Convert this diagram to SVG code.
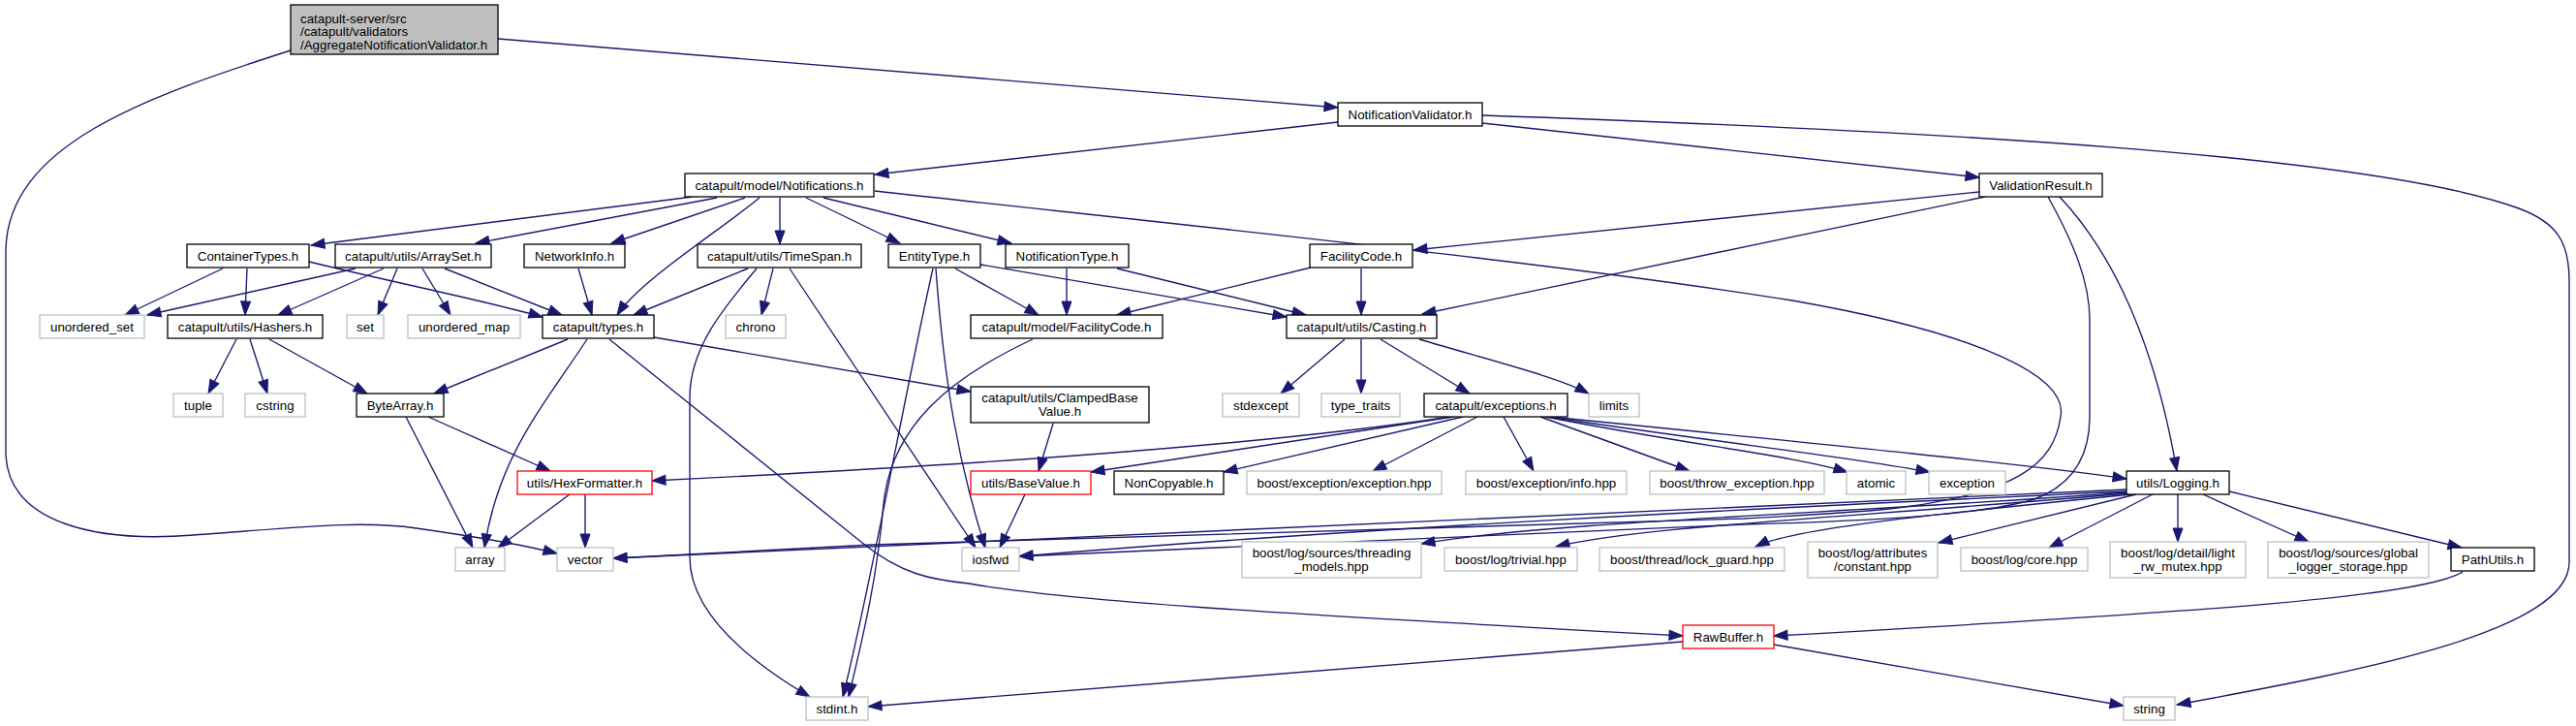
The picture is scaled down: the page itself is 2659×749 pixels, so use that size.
<svg xmlns="http://www.w3.org/2000/svg" width="2659" height="749" viewBox="0 0 2659 749">
<style>
.bg{fill:#ffffff}
.n rect{fill:#ffffff;stroke:#000000;stroke-width:1.3}
.g rect{fill:#ffffff;stroke:#bfbfbf;stroke-width:1.3}
.r rect{fill:#ffffff;stroke:#ff0000;stroke-width:1.3}
.top rect{fill:#bfbfbf;stroke:#000000;stroke-width:1.3}
text{font-family:"Liberation Sans",Arial,Helvetica,sans-serif;font-size:13.33px;fill:#000000}
.c{text-anchor:middle}
#edges path{fill:none;stroke:#191970;stroke-width:1.35;marker-end:url(#ah)}
</style>
<defs>
<marker id="ah" markerUnits="userSpaceOnUse" markerWidth="15" markerHeight="11" refX="14" refY="5" orient="auto" viewBox="0 0 15 10" overflow="visible">
<path d="M0,0 L14,5 L0,10 z" fill="#191970" stroke="#191970" stroke-width="1"/>
</marker>
</defs>
<rect class="bg" x="0" y="0" width="2659" height="749"/>
<g id="edges">
<path d="M514,40 L1381,111"/>
<path d="M300,52 C150,100 6,150 6,260 L6,470 C10,540 100,560 200,552 C300,545 370,536 430,545 C500,555 540,562 575,571"/>
<path d="M1381,126 L903,180"/>
<path d="M1530,127 L2043,183"/>
<path d="M1530,119 C2000,135 2450,160 2600,215 C2640,230 2652,250 2652,290 L2652,580 C2652,650 2450,690 2247,727"/>
<path d="M715,203 L321,253"/>
<path d="M740,204 L491,251"/>
<path d="M769,204 L631,251"/>
<path d="M784,204 C740,240 660,290 637,325"/>
<path d="M805,204 L805,252"/>
<path d="M832,204 L929,251"/>
<path d="M850,204 L1044,251"/>
<path d="M903,197 C1200,230 1600,270 1850,310 C2050,345 2135,390 2127,430 C2120,480 2080,510 1950,525 C1900,530 1850,532 1800,535 L900,562 L633,576"/>
<path d="M2043,198 L1459,258"/>
<path d="M2049,203 L1468,324"/>
<path d="M2126,203 C2170,250 2220,330 2247,486"/>
<path d="M2114,203 C2140,250 2157,290 2157,330 L2157,430 C2157,470 2140,500 2100,515 C2050,530 1950,537 1800,541 L1052,574"/>
<path d="M2195,505 L633,576"/>
<path d="M2195,507 C1800,525 1400,545 1052,574"/>
<path d="M2195,508 C1900,530 1600,538 1467,561"/>
<path d="M2197,509 C1900,535 1700,542 1606,564"/>
<path d="M2200,510 C2000,530 1850,545 1812,564"/>
<path d="M2205,510 L2001,560"/>
<path d="M2222,510 L2115,565"/>
<path d="M2248,510 L2248,559"/>
<path d="M2274,510 L2383,559"/>
<path d="M2301,507 L2541,565"/>
<path d="M2542,590 C2500,615 2300,630 1831,656"/>
<path d="M1737,662 L896,729"/>
<path d="M1831,665 L2192,728"/>
<path d="M629,350 L890,560 C930,592 960,598 1000,602 C1100,620 1300,632 1737,656"/>
<path d="M586,350 L448,406"/>
<path d="M606,350 C560,420 515,470 500,565"/>
<path d="M675,348 L1002,404"/>
<path d="M772,277 L654,325"/>
<path d="M798,277 L786,325"/>
<path d="M781,277 C745,320 712,360 712,410 L712,575 C712,630 770,680 836,719"/>
<path d="M815,277 L1007,565"/>
<path d="M966,277 C975,400 990,480 1017,565"/>
<path d="M963,277 C935,400 900,600 870,719"/>
<path d="M986,277 L1072,325"/>
<path d="M1012,273 L1328,327"/>
<path d="M1066,350 C980,390 920,440 912,520 C905,600 890,660 876,719"/>
<path d="M1101,277 L1101,325"/>
<path d="M1153,277 L1348,325"/>
<path d="M1353,276 L1153,325"/>
<path d="M1405,277 L1405,325"/>
<path d="M1087,437 L1072,486"/>
<path d="M1058,510 L1032,565"/>
<path d="M1388,350 L1322,406"/>
<path d="M1405,350 L1405,406"/>
<path d="M1425,350 L1517,406"/>
<path d="M1465,350 C1550,375 1610,390 1640,406"/>
<path d="M1497,430 C1300,460 1000,480 673,496"/>
<path d="M1500,430 L1126,487"/>
<path d="M1510,430 L1263,487"/>
<path d="M1525,430 L1417,486"/>
<path d="M1552,430 L1583,486"/>
<path d="M1590,430 L1744,486"/>
<path d="M1595,430 C1750,460 1850,470 1907,487"/>
<path d="M1597,430 C1800,460 1900,470 1992,487"/>
<path d="M1600,430 C1900,460 2100,480 2195,494"/>
<path d="M244,350 L215,406"/>
<path d="M258,350 L276,406"/>
<path d="M278,350 L379,406"/>
<path d="M230,277 L129,325"/>
<path d="M255,277 L253,325"/>
<path d="M319,270 C400,290 500,310 560,327"/>
<path d="M367,277 L152,325"/>
<path d="M396,277 L287,325"/>
<path d="M410,277 L390,325"/>
<path d="M436,277 L465,325"/>
<path d="M459,277 L580,325"/>
<path d="M597,277 L611,325"/>
<path d="M419,430 L488,565"/>
<path d="M442,430 L568,486"/>
<path d="M588,510 L514,565"/>
<path d="M604,510 L604,565"/>
</g>
<g id="n_top" class="top"><rect x="300" y="5" width="214" height="51"/><text x="310" y="23.5">catapult-server/src</text><text x="310" y="37">/catapult/validators</text><text x="310" y="50.5">/AggregateNotificationValidator.h</text></g>
<g id="n_NotificationValidator" class="n"><rect x="1381" y="106" width="149" height="24"/><text class="c" x="1455.5" y="122.5">NotificationValidator.h</text></g>
<g id="n_Notifications" class="n"><rect x="707" y="179" width="195" height="24"/><text class="c" x="804.5" y="195.5">catapult/model/Notifications.h</text></g>
<g id="n_ValidationResult" class="n"><rect x="2043" y="179" width="127" height="24"/><text class="c" x="2106.5" y="195.5">ValidationResult.h</text></g>
<g id="n_ContainerTypes" class="n"><rect x="193" y="252" width="126" height="24"/><text class="c" x="256" y="268.5">ContainerTypes.h</text></g>
<g id="n_ArraySet" class="n"><rect x="346" y="252" width="161" height="24"/><text class="c" x="426.5" y="268.5">catapult/utils/ArraySet.h</text></g>
<g id="n_NetworkInfo" class="n"><rect x="541" y="252" width="104" height="24"/><text class="c" x="593" y="268.5">NetworkInfo.h</text></g>
<g id="n_TimeSpan" class="n"><rect x="720" y="252" width="169" height="24"/><text class="c" x="804.5" y="268.5">catapult/utils/TimeSpan.h</text></g>
<g id="n_EntityType" class="n"><rect x="917" y="252" width="95" height="24"/><text class="c" x="964.5" y="268.5">EntityType.h</text></g>
<g id="n_NotificationType" class="n"><rect x="1038" y="252" width="127" height="24"/><text class="c" x="1101.5" y="268.5">NotificationType.h</text></g>
<g id="n_FacilityCode" class="n"><rect x="1352" y="252" width="106" height="24"/><text class="c" x="1405" y="268.5">FacilityCode.h</text></g>
<g id="n_unordered_set" class="g"><rect x="41" y="325" width="108" height="24"/><text class="c" x="95" y="341.5">unordered_set</text></g>
<g id="n_Hashers" class="n"><rect x="173" y="325" width="160" height="24"/><text class="c" x="253" y="341.5">catapult/utils/Hashers.h</text></g>
<g id="n_set" class="g"><rect x="358" y="325" width="38" height="24"/><text class="c" x="377" y="341.5">set</text></g>
<g id="n_unordered_map" class="g"><rect x="421" y="325" width="116" height="24"/><text class="c" x="479" y="341.5">unordered_map</text></g>
<g id="n_types" class="n"><rect x="560" y="325" width="115" height="24"/><text class="c" x="617.5" y="341.5">catapult/types.h</text></g>
<g id="n_chrono" class="g"><rect x="749" y="325" width="62" height="24"/><text class="c" x="780" y="341.5">chrono</text></g>
<g id="n_modelFacilityCode" class="n"><rect x="1002" y="325" width="198" height="24"/><text class="c" x="1101" y="341.5">catapult/model/FacilityCode.h</text></g>
<g id="n_Casting" class="n"><rect x="1328" y="325" width="155" height="24"/><text class="c" x="1405.5" y="341.5">catapult/utils/Casting.h</text></g>
<g id="n_tuple" class="g"><rect x="179" y="406" width="51" height="24"/><text class="c" x="204.5" y="422.5">tuple</text></g>
<g id="n_cstring" class="g"><rect x="253" y="406" width="62" height="24"/><text class="c" x="284" y="422.5">cstring</text></g>
<g id="n_ByteArray" class="n"><rect x="368" y="406" width="90" height="24"/><text class="c" x="413" y="422.5">ByteArray.h</text></g>
<g id="n_ClampedBaseValue" class="n"><rect x="1002" y="399" width="184" height="37"/><text class="c" x="1094" y="415">catapult/utils/ClampedBase</text><text class="c" x="1094" y="429">Value.h</text></g>
<g id="n_stdexcept" class="g"><rect x="1262" y="406" width="79" height="24"/><text class="c" x="1301.5" y="422.5">stdexcept</text></g>
<g id="n_type_traits" class="g"><rect x="1364" y="406" width="81" height="24"/><text class="c" x="1404.5" y="422.5">type_traits</text></g>
<g id="n_exceptions" class="n"><rect x="1470" y="406" width="148" height="24"/><text class="c" x="1544" y="422.5">catapult/exceptions.h</text></g>
<g id="n_limits" class="g"><rect x="1640" y="406" width="52" height="24"/><text class="c" x="1666" y="422.5">limits</text></g>
<g id="n_HexFormatter" class="r"><rect x="534" y="486" width="139" height="24"/><text class="c" x="603.5" y="502.5">utils/HexFormatter.h</text></g>
<g id="n_BaseValue" class="r"><rect x="1002" y="486" width="124" height="24"/><text class="c" x="1064" y="502.5">utils/BaseValue.h</text></g>
<g id="n_NonCopyable" class="n"><rect x="1150" y="486" width="113" height="24"/><text class="c" x="1206.5" y="502.5">NonCopyable.h</text></g>
<g id="n_exception_hpp" class="g"><rect x="1287" y="486" width="201" height="24"/><text class="c" x="1387.5" y="502.5">boost/exception/exception.hpp</text></g>
<g id="n_info_hpp" class="g"><rect x="1513" y="486" width="166" height="24"/><text class="c" x="1596" y="502.5">boost/exception/info.hpp</text></g>
<g id="n_throw_exception" class="g"><rect x="1703" y="486" width="180" height="24"/><text class="c" x="1793" y="502.5">boost/throw_exception.hpp</text></g>
<g id="n_atomic" class="g"><rect x="1906" y="486" width="61" height="24"/><text class="c" x="1936.5" y="502.5">atomic</text></g>
<g id="n_exception" class="g"><rect x="1991" y="486" width="79" height="24"/><text class="c" x="2030.5" y="502.5">exception</text></g>
<g id="n_Logging" class="n"><rect x="2195" y="486" width="106" height="24"/><text class="c" x="2248" y="502.5">utils/Logging.h</text></g>
<g id="n_array" class="g"><rect x="470" y="565" width="51" height="24"/><text class="c" x="495.5" y="581.5">array</text></g>
<g id="n_vector" class="g"><rect x="575" y="565" width="58" height="24"/><text class="c" x="604" y="581.5">vector</text></g>
<g id="n_iosfwd" class="g"><rect x="993" y="565" width="59" height="24"/><text class="c" x="1022.5" y="581.5">iosfwd</text></g>
<g id="n_threading" class="g"><rect x="1282" y="559" width="185" height="37"/><text class="c" x="1374.5" y="575">boost/log/sources/threading</text><text class="c" x="1374.5" y="589">_models.hpp</text></g>
<g id="n_trivial" class="g"><rect x="1491" y="565" width="137" height="24"/><text class="c" x="1559.5" y="581.5">boost/log/trivial.hpp</text></g>
<g id="n_lock_guard" class="g"><rect x="1651" y="565" width="191" height="24"/><text class="c" x="1746.5" y="581.5">boost/thread/lock_guard.hpp</text></g>
<g id="n_constant" class="g"><rect x="1866" y="559" width="134" height="37"/><text class="c" x="1933" y="575">boost/log/attributes</text><text class="c" x="1933" y="589">/constant.hpp</text></g>
<g id="n_core" class="g"><rect x="2024" y="565" width="131" height="24"/><text class="c" x="2089.5" y="581.5">boost/log/core.hpp</text></g>
<g id="n_light_rw_mutex" class="g"><rect x="2178" y="559" width="140" height="37"/><text class="c" x="2248" y="575">boost/log/detail/light</text><text class="c" x="2248" y="589">_rw_mutex.hpp</text></g>
<g id="n_global_logger" class="g"><rect x="2341" y="559" width="166" height="37"/><text class="c" x="2424" y="575">boost/log/sources/global</text><text class="c" x="2424" y="589">_logger_storage.hpp</text></g>
<g id="n_PathUtils" class="n"><rect x="2530" y="565" width="86" height="24"/><text class="c" x="2573" y="581.5">PathUtils.h</text></g>
<g id="n_RawBuffer" class="r"><rect x="1737" y="645" width="94" height="24"/><text class="c" x="1784" y="661.5">RawBuffer.h</text></g>
<g id="n_stdint" class="g"><rect x="832" y="719" width="64" height="24"/><text class="c" x="864" y="735.5">stdint.h</text></g>
<g id="n_string" class="g"><rect x="2192" y="719" width="53" height="24"/><text class="c" x="2218.5" y="735.5">string</text></g>
</svg>
